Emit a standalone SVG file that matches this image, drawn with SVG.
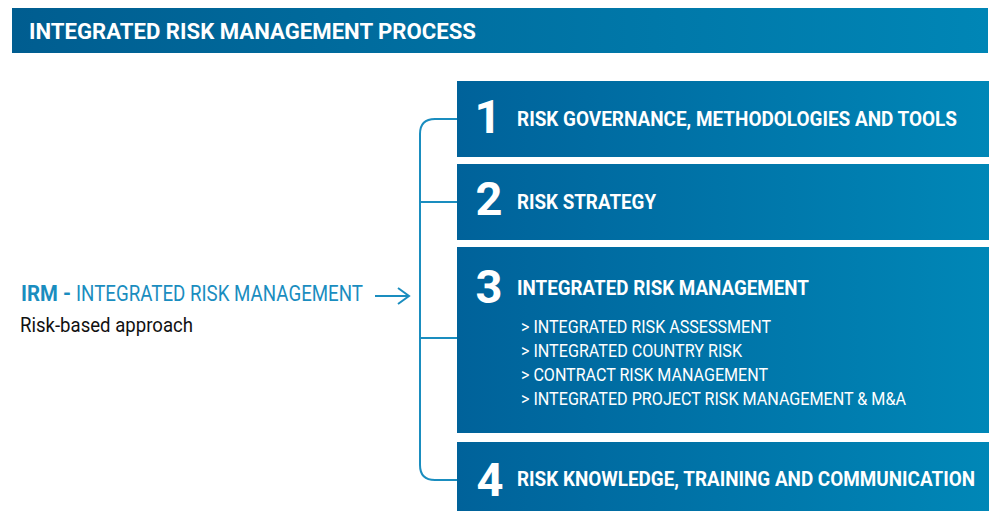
<svg xmlns="http://www.w3.org/2000/svg" width="992" height="511" viewBox="0 0 992 511">
  <defs>
    <linearGradient id="bg" x1="0" y1="0" x2="1" y2="0">
      <stop offset="0" stop-color="#00629a"/>
      <stop offset="1" stop-color="#0087b7"/>
    </linearGradient>
    <linearGradient id="hg" x1="0" y1="0" x2="1" y2="0">
      <stop offset="0" stop-color="#005d90"/>
      <stop offset="1" stop-color="#0086b6"/>
    </linearGradient>
    <marker id="chev" viewBox="0 0 14 18" refX="12" refY="9" markerWidth="14" markerHeight="18" markerUnits="userSpaceOnUse" orient="auto">
      <path d="M1,1 L12,9 L1,17" fill="none" stroke="#1a8dbf" stroke-width="2"/>
    </marker>
  </defs>
  <style>
    .box { fill: url(#bg); }
    .num { font-family: Roboto, "Liberation Sans", sans-serif; font-weight: 700; font-size: 47px; fill: #ffffff; text-anchor: middle; }
    .lbl { font-family: Roboto, "Liberation Sans", sans-serif; font-weight: 700; font-size: 20px; fill: #ffffff; }
    .sub { font-family: Roboto, "Liberation Sans", sans-serif; font-weight: 400; font-size: 17.5px; fill: #ffffff; }
    .conn { fill: none; stroke: #1a8dbf; stroke-width: 2; }
  </style>
  <rect width="992" height="511" fill="#ffffff"/>

  <g id="header">
    <rect x="12" y="8" width="976" height="45" fill="url(#hg)"/>
    <text x="29" y="39" font-family="Roboto, 'Liberation Sans', sans-serif" font-weight="700" font-size="22.5" fill="#ffffff" textLength="447" lengthAdjust="spacingAndGlyphs">INTEGRATED RISK MANAGEMENT PROCESS</text>
  </g>

  <g id="irm">
    <text x="21" y="301" font-family="Roboto, 'Liberation Sans', sans-serif" font-size="22" fill="#1a8dbf"><tspan font-weight="700" textLength="50" lengthAdjust="spacingAndGlyphs">IRM -</tspan><tspan x="76" textLength="287" lengthAdjust="spacingAndGlyphs">INTEGRATED RISK MANAGEMENT</tspan></text>
    <text x="20" y="332" font-family="Roboto, 'Liberation Sans', sans-serif" font-size="21" fill="#111111" textLength="173" lengthAdjust="spacingAndGlyphs">Risk-based approach</text>
  </g>

  <g id="connectors">
    <line class="conn" x1="375" y1="296" x2="409" y2="296" marker-end="url(#chev)"/>
    <path class="conn" d="M457,119 H435 Q420,119 420,134 V465 Q420,480 435,480 H457"/>
    <line class="conn" x1="420" y1="202" x2="457" y2="202"/>
    <line class="conn" x1="420" y1="338" x2="457" y2="338"/>
  </g>

  <g id="box1">
    <rect class="box" x="457" y="81" width="532" height="76"/>
    <text class="num" x="488" y="133">1</text>
    <text class="lbl" x="517" y="126" textLength="440" lengthAdjust="spacingAndGlyphs">RISK GOVERNANCE, METHODOLOGIES AND TOOLS</text>
  </g>

  <g id="box2">
    <rect class="box" x="457" y="164" width="532" height="76"/>
    <text class="num" x="489" y="215">2</text>
    <text class="lbl" x="517" y="209" textLength="139" lengthAdjust="spacingAndGlyphs">RISK STRATEGY</text>
  </g>

  <g id="box3">
    <rect class="box" x="457" y="247" width="532" height="186"/>
    <text class="num" x="489" y="303">3</text>
    <text class="lbl" x="517" y="295" textLength="292" lengthAdjust="spacingAndGlyphs">INTEGRATED RISK MANAGEMENT</text>
    <text class="sub" x="521" y="333" textLength="250" lengthAdjust="spacingAndGlyphs">&gt; INTEGRATED RISK ASSESSMENT</text>
    <text class="sub" x="521" y="357" textLength="221" lengthAdjust="spacingAndGlyphs">&gt; INTEGRATED COUNTRY RISK</text>
    <text class="sub" x="521" y="381" textLength="247" lengthAdjust="spacingAndGlyphs">&gt; CONTRACT RISK MANAGEMENT</text>
    <text class="sub" x="521" y="405" textLength="385" lengthAdjust="spacingAndGlyphs">&gt; INTEGRATED PROJECT RISK MANAGEMENT &amp; M&amp;A</text>
  </g>

  <g id="box4">
    <rect class="box" x="457" y="442" width="532" height="69"/>
    <text class="num" x="490" y="496">4</text>
    <text class="lbl" x="517" y="486" textLength="458" lengthAdjust="spacingAndGlyphs">RISK KNOWLEDGE, TRAINING AND COMMUNICATION</text>
  </g>
</svg>
